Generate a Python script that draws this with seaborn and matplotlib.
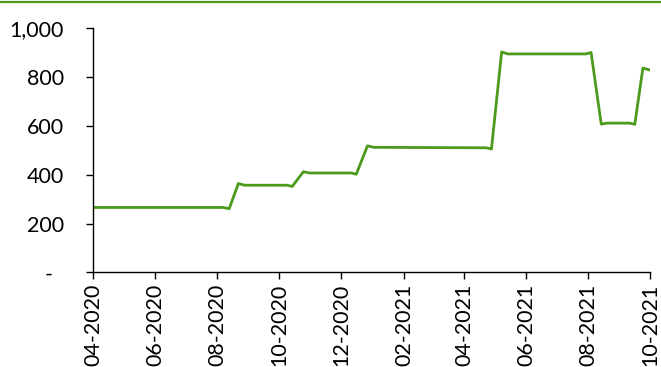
import matplotlib
matplotlib.use("Agg")
import matplotlib.pyplot as plt
import matplotlib.dates as mdates
from matplotlib.ticker import FuncFormatter, FixedLocator
from matplotlib.lines import Line2D
import seaborn as sns
import pandas as pd

dates = [
    "2020-04-01", "2020-08-07", "2020-08-13", "2020-08-22", "2020-08-28",
    "2020-10-09", "2020-10-14", "2020-10-25", "2020-10-31",
    "2020-12-11", "2020-12-16", "2020-12-27", "2021-01-02",
    "2021-04-23", "2021-04-28", "2021-05-08", "2021-05-14",
    "2021-07-30", "2021-08-04", "2021-08-14", "2021-08-20",
    "2021-09-11", "2021-09-16", "2021-09-24", "2021-10-01",
]
values = [
    266, 266, 261, 364, 357,
    357, 352, 412, 407,
    407, 402, 518, 512,
    510, 505, 902, 894,
    894, 900, 607, 611,
    611, 606, 836, 828,
]
y_ticks = [0, 200, 400, 600, 800, 1000]

df = pd.DataFrame({"date": pd.to_datetime(dates), "value": values})

sns.set_theme(style="white")
plt.rcParams["font.family"] = ["Lato", "DejaVu Sans"]

fig = plt.figure(figsize=(6.61, 3.67), dpi=100)
ax = fig.add_axes([0.1407, 0.2575, 0.8427, 0.6662])

sns.lineplot(data=df, x="date", y="value", ax=ax, color="#4C9A1C", linewidth=2.0)

ax.set_xlim(pd.Timestamp("2020-04-01"), pd.Timestamp("2021-10-01"))
ax.set_ylim(0, 1000)
ax.yaxis.set_major_locator(FixedLocator(y_ticks))
ax.yaxis.set_major_formatter(FuncFormatter(lambda v, p: "-" if v == 0 else f"{int(v):,}"))
ax.xaxis.set_major_locator(mdates.MonthLocator(bymonth=[2, 4, 6, 8, 10, 12]))
ax.xaxis.set_major_formatter(mdates.DateFormatter("%m-%Y"))

for lbl in ax.get_xticklabels():
    lbl.set_rotation(90)

ax.set_xlabel("")
ax.set_ylabel("")
for s in ["top", "right"]:
    ax.spines[s].set_visible(False)
for s in ["left", "bottom"]:
    ax.spines[s].set_color("black")
    ax.spines[s].set_linewidth(1.0)
ax.tick_params(axis="both", which="major", direction="out", length=5, width=1,
               color="black", labelsize=15.5, labelcolor="black", pad=3,
               left=True, bottom=True)
ax.tick_params(axis="y", pad=16)
ax.grid(False)

yt = ax.yaxis.get_major_ticks(len(y_ticks))
yt[0].set_pad(24)

fig.add_artist(Line2D([0, 1], [0.994, 0.994], transform=fig.transFigure,
                      color="#4C9A1C", linewidth=1.6))

fig.savefig("out.png", dpi=100)
